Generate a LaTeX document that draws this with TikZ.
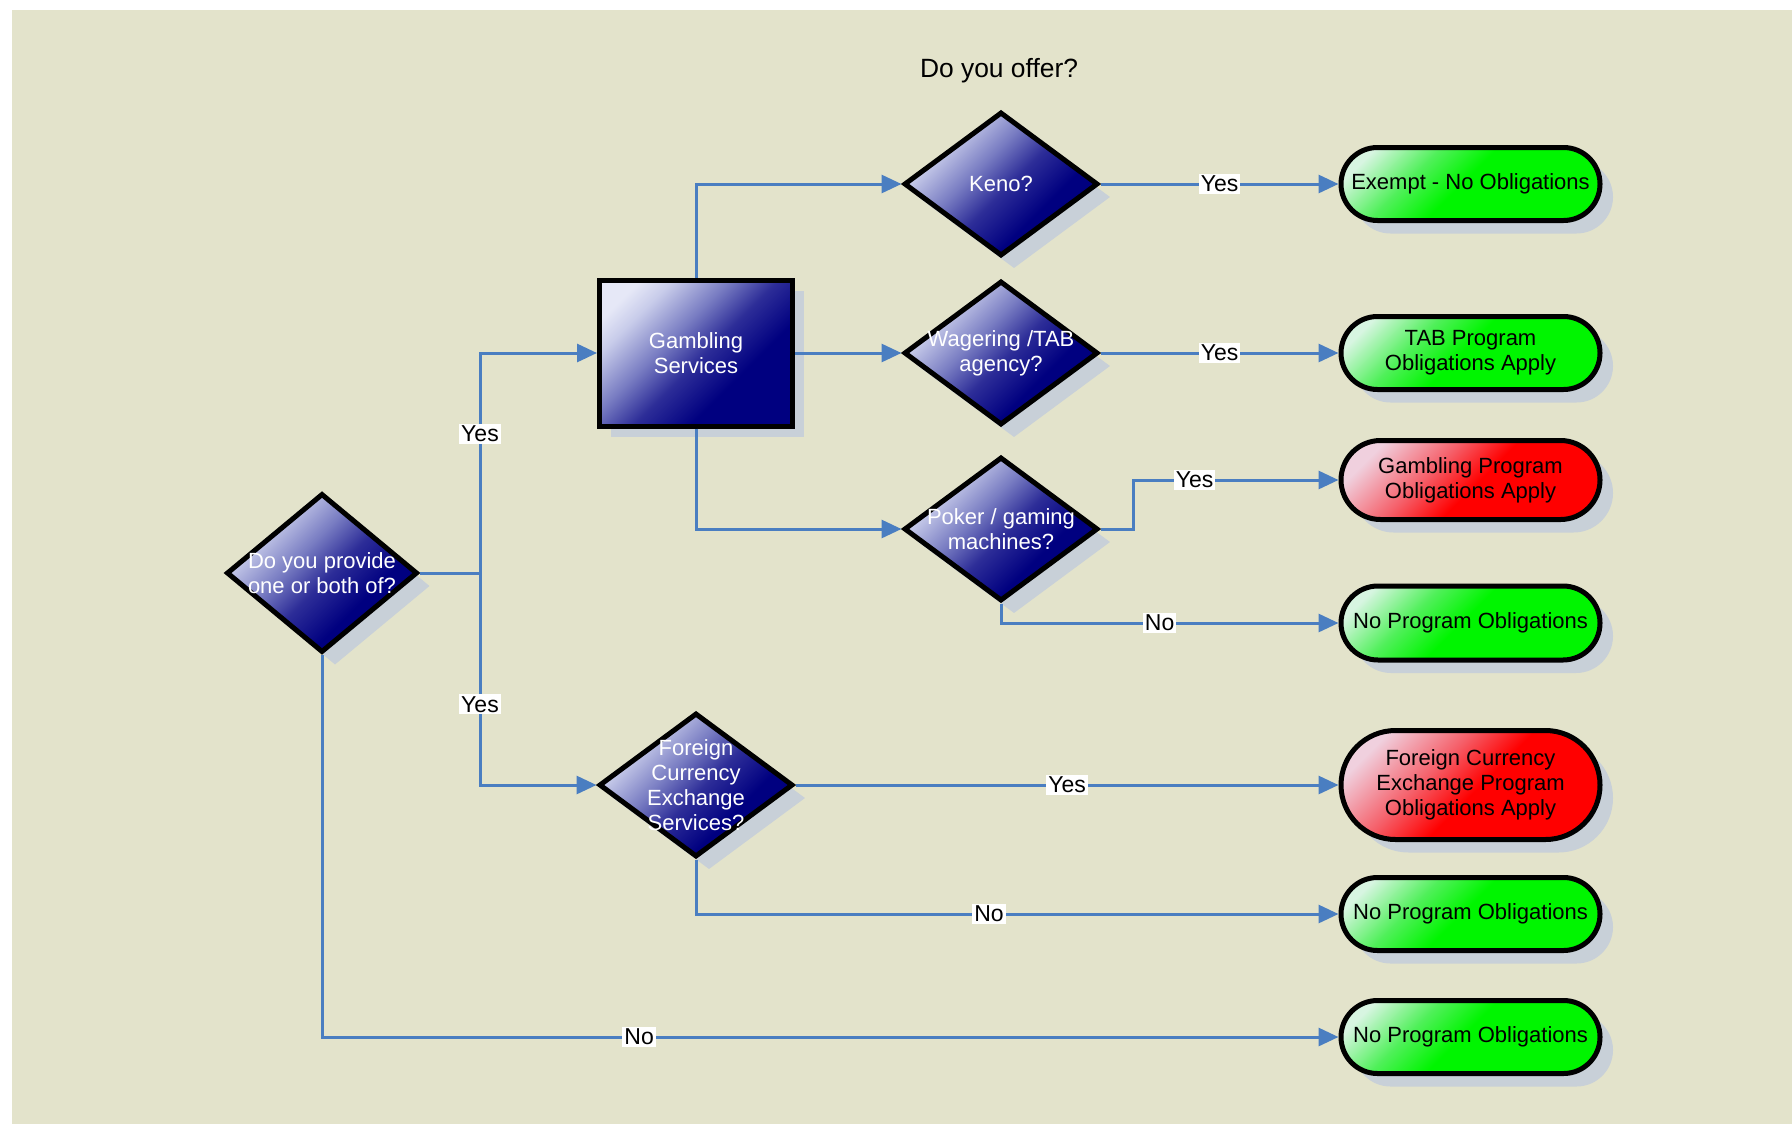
\documentclass[tikz,border=0pt]{standalone}
\usepackage{fontspec}
\setmainfont{Liberation Sans}
\usetikzlibrary{shapes.geometric,shapes.misc,shadows,arrows.meta}

\definecolor{paper}{RGB}{227,227,203}
\definecolor{wire}{RGB}{74,126,193}
\definecolor{shadowc}{RGB}{200,208,216}
\definecolor{navyA}{RGB}{0,0,128}
\definecolor{navyM}{RGB}{45,45,152}
\definecolor{navyB}{RGB}{120,124,194}
\definecolor{navyL}{RGB}{200,204,234}
\definecolor{navyC}{RGB}{230,232,247}
\definecolor{grnA}{RGB}{0,245,0}
\definecolor{grnB}{RGB}{80,240,90}
\definecolor{grnC}{RGB}{215,245,225}
\definecolor{redA}{RGB}{255,0,0}
\definecolor{redB}{RGB}{245,95,105}
\definecolor{redC}{RGB}{240,208,222}

% diagonal fills: dark towards lower right, pale towards upper left
\pgfdeclareverticalshading{navyshade}{100bp}{color(0bp)=(navyA); color(25bp)=(navyA); color(36bp)=(navyA); color(48bp)=(navyM); color(58bp)=(navyB); color(70bp)=(navyL); color(77bp)=(navyC); color(100bp)=(navyC)}
\pgfdeclareverticalshading{greenshade}{100bp}{color(0bp)=(grnA); color(25bp)=(grnA); color(52bp)=(grnA); color(64bp)=(grnB); color(78bp)=(grnC); color(100bp)=(grnC)}
\pgfdeclareverticalshading{redshade}{100bp}{color(0bp)=(redA); color(25bp)=(redA); color(48bp)=(redA); color(60bp)=(redB); color(76bp)=(redC); color(100bp)=(redC)}

\tikzset{
  shadowed/.style={drop shadow={shadow xshift=#1, shadow yshift=-#1, fill=shadowc, opacity=1}},
  process/.style={rectangle, draw=black, line width=2.5pt, inner sep=0pt,
    shading=navyshade, shading angle=45, shadowed=5.5pt},
  decision/.style={diamond, draw=black, line width=2.5pt, inner sep=0pt,
    minimum width=97pt, minimum height=72pt,
    shading=navyshade, shading angle=45, shadowed=6.5pt},
  qtext/.style={text=white, align=center, inner sep=0pt,
    font=\fontsize{11}{12.5}\selectfont},
  terminal/.style={rounded rectangle, draw=black, line width=2.5pt, inner sep=0pt,
    minimum width=129.5pt, minimum height=36.5pt, align=center, text=black,
    font=\fontsize{11}{12.5}\selectfont, shading angle=45, shadowed=6.5pt},
  okend/.style={terminal, shading=greenshade},
  dutyend/.style={terminal, shading=redshade},
  wireline/.style={draw=wire, line width=1.5pt},
  conn/.style={wireline, -{Triangle[length=10pt,width=9pt]}},
  lbl/.style={fill=white, inner sep=1pt, text=black,
    font=\fontsize{11.5}{13}\selectfont},
}

\begin{document}
\begin{tikzpicture}[x=0.5pt,y=-0.5pt]
\useasboundingbox (0,0) rectangle (1792,1124);
\fill[white] (0,0) rectangle (1792,1124);
\fill[paper] (12,10) rectangle (1792,1124);

\node[font=\fontsize{13.2}{16}\selectfont] (title) at (999,71) {Do you offer?};

% questions and service group
\node[decision, minimum width=95.5pt, minimum height=79.5pt] (q1) at (322,573) {};
\node[qtext] (q1t) at (q1.center) {Do you provide\\one or both of?};

\node[process, minimum width=96.5pt, minimum height=73pt] (gs) at (696,353) {};
\node[qtext] (gst) at (gs.center) {Gambling\\Services};

\node[decision] (keno) at (1001,184) {};
\node[qtext] (kenot) at (keno.center) {Keno?};

\node[decision] (wag) at (1001,353) {};
\node[qtext] (wagt) at (wag.center) {Wagering /TAB\\agency?};

\node[decision] (poker) at (1001,529) {};
\node[qtext] (pokert) at (poker.center) {Poker / gaming\\machines?};

\node[decision] (fx) at (696,785) {};
\node[qtext] (fxt) at (fx.center) {Foreign\\Currency\\Exchange\\Services?};

% outcomes
\node[okend] (t1) at (1470.5,184) {Exempt - No Obligations};
\node[okend] (t2) at (1470.5,353) {TAB Program\\Obligations Apply};
\node[dutyend, minimum height=39.5pt] (t3) at (1470.5,480) {Gambling Program\\Obligations Apply};
\node[okend, minimum height=37pt] (t4) at (1470.5,623) {No Program Obligations};
\node[dutyend, minimum height=54.5pt] (t5) at (1470.5,785) {Foreign Currency\\Exchange Program\\Obligations Apply};
\node[okend] (t6) at (1470.5,914) {No Program Obligations};
\node[okend] (t7) at (1470.5,1037) {No Program Obligations};

% connectors
\coordinate (jx) at (480,573);
\draw[wireline] (q1.east) -- (jx);
\draw[conn] (jx) |- node[lbl,pos=0.316] (y1) {Yes} (gs.west);
\draw[conn] (jx) |- node[lbl,pos=0.31] (y2) {Yes} (fx.west);

\draw[conn] (gs.north) |- (keno.west);
\draw[conn] (gs.east) -- (wag.west);
\draw[conn] (gs.south) |- (poker.west);

\draw[conn] (keno.east) -- node[lbl] (y3) {Yes} (t1.west);
\draw[conn] (wag.east) -- node[lbl] (y4) {Yes} (t2.west);
\coordinate (pk) at (1133,529);
\draw[conn] (poker.east) -- (pk) |- node[lbl,pos=0.65] (y5) {Yes} (t3.west);
\draw[conn] (poker.south) |- node[lbl,pos=0.735] (n1) {No} (t4.west);

\draw[conn] (fx.east) -- node[lbl] (y6) {Yes} (t5.west);
\draw[conn] (fx.south) |- node[lbl,pos=0.728] (n2) {No} (t6.west);
\draw[conn] (q1.south) |- node[lbl,pos=0.656] (n3) {No} (t7.west);
\end{tikzpicture}
\end{document}
